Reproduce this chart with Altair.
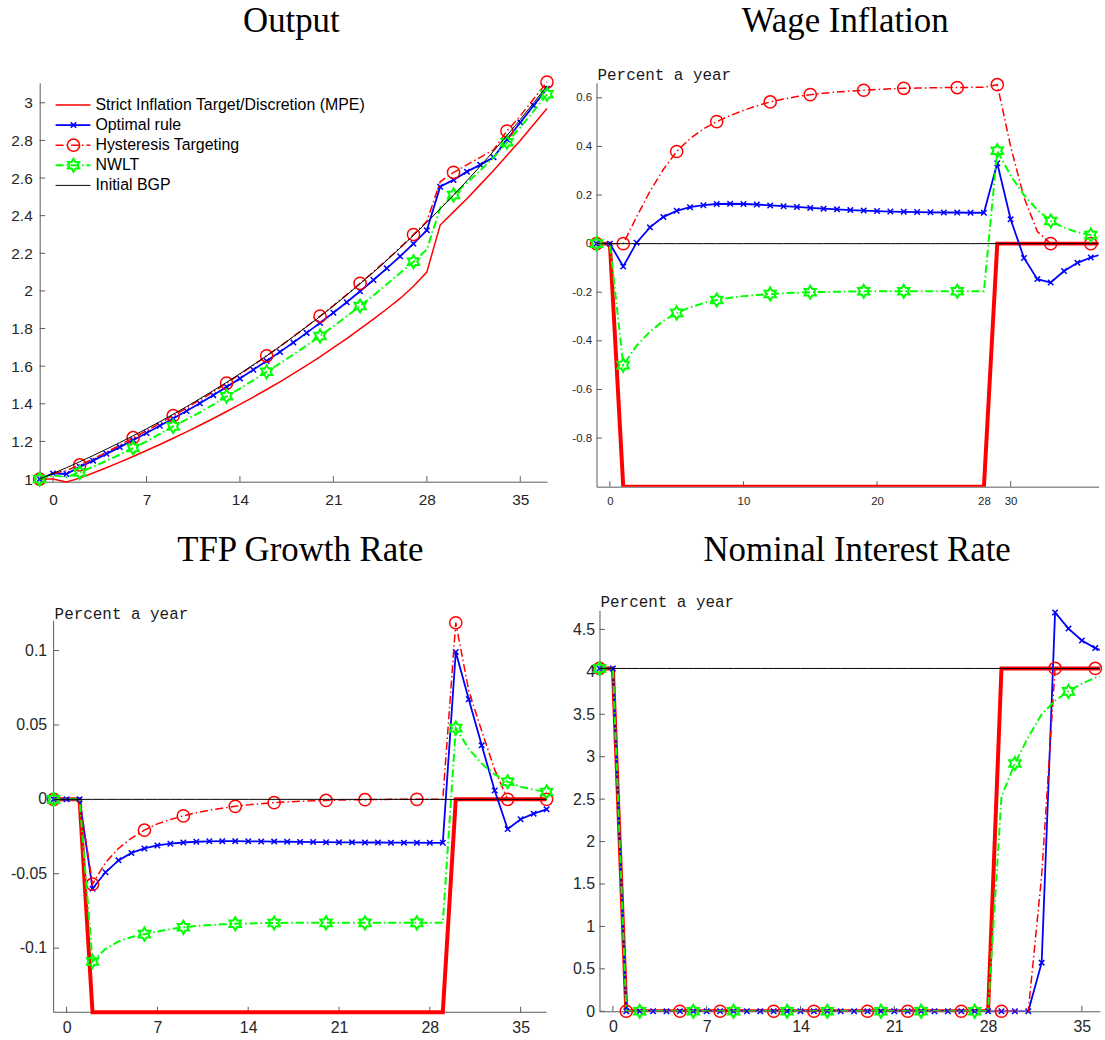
import altair as alt
import pandas as pd

# ---------------- data ----------------
T = list(range(-1, 38))
MARK_A = [-1, 2, 6, 9, 13, 16, 20, 23, 27, 30, 34, 37]
MARK_B = [-1, 1, 5, 8, 12, 15, 19, 22, 26, 29, 33, 36]

LEGEND_LABELS = ["Strict Inflation Target/Discretion (MPE)", "Optimal rule",
                 "Hysteresis Targeting", "NWLT", "Initial BGP"]
TITLES = ["Output", "Wage Inflation", "TFP Growth Rate", "Nominal Interest Rate"]
UNIT_LABEL = "Percent a year"

OUT_MPE = [1.000, 1.000, 0.985, 1.005, 1.032, 1.060, 1.090, 1.120, 1.152, 1.184,
           1.217, 1.251, 1.286, 1.322, 1.359, 1.397, 1.436, 1.476, 1.517, 1.560,
           1.604, 1.650, 1.698, 1.747, 1.798, 1.850, 1.904, 1.960, 2.025, 2.100,
           2.350, 2.420, 2.490, 2.565, 2.640, 2.720, 2.800, 2.885, 2.970]
OUT_OPT = [1.000, 1.030, 1.027, 1.065, 1.098, 1.134, 1.170, 1.207, 1.245, 1.283,
           1.322, 1.362, 1.403, 1.446, 1.490, 1.535, 1.581, 1.628, 1.676, 1.726,
           1.777, 1.830, 1.884, 1.940, 1.998, 2.058, 2.120, 2.184, 2.251, 2.322,
           2.554, 2.590, 2.634, 2.670, 2.710, 2.805, 2.895, 2.985, 3.075]
OUT_HYS = [1.000, 1.030, 1.045, 1.075, 1.108, 1.142, 1.180, 1.220, 1.257, 1.296,
           1.337, 1.378, 1.420, 1.464, 1.510, 1.557, 1.605, 1.655, 1.705, 1.757,
           1.811, 1.866, 1.922, 1.980, 2.040, 2.102, 2.165, 2.230, 2.300, 2.370,
           2.580, 2.630, 2.670, 2.710, 2.750, 2.850, 2.930, 3.020, 3.110]
OUT_NWLT = [1.000, 1.020, 1.010, 1.035, 1.065, 1.097, 1.130, 1.165, 1.200, 1.240,
            1.280, 1.317, 1.355, 1.396, 1.440, 1.481, 1.525, 1.570, 1.615, 1.662,
            1.710, 1.760, 1.812, 1.865, 1.920, 1.976, 2.035, 2.095, 2.155, 2.220,
            2.440, 2.510, 2.575, 2.640, 2.710, 2.790, 2.870, 2.955, 3.045]
OUT_BGP = [1.000, 1.030, 1.060, 1.092, 1.125, 1.159, 1.194, 1.230, 1.267, 1.305,
           1.344, 1.385, 1.427, 1.470, 1.514, 1.560, 1.607, 1.655, 1.705, 1.757,
           1.810, 1.864, 1.920, 1.978, 2.038, 2.099, 2.163, 2.228, 2.295, 2.364,
           2.436, 2.509, 2.585, 2.663, 2.743, 2.826, 2.911, 2.999, 3.090]

WAGE_MPE = [0.0, 0.0, -1.0, -1.0, -1.0, -1.0, -1.0, -1.0, -1.0, -1.0,
            -1.0, -1.0, -1.0, -1.0, -1.0, -1.0, -1.0, -1.0, -1.0, -1.0,
            -1.0, -1.0, -1.0, -1.0, -1.0, -1.0, -1.0, -1.0, -1.0, -1.0,
            0.0, 0.0, 0.0, 0.0, 0.0, 0.0, 0.0, 0.0, 0.0]
WAGE_OPT = [0.0, 0.0, -0.094, 0.004, 0.067, 0.110, 0.135, 0.150, 0.158, 0.163,
            0.164, 0.163, 0.161, 0.157, 0.154, 0.151, 0.147, 0.144, 0.141, 0.138,
            0.136, 0.134, 0.132, 0.131, 0.130, 0.129, 0.128, 0.128, 0.127, 0.127,
            0.331, 0.100, -0.059, -0.146, -0.160, -0.113, -0.079, -0.057, -0.041]
WAGE_HYS = [0.0, 0.0, 0.0, 0.110, 0.215, 0.305, 0.379, 0.432, 0.472, 0.502,
            0.527, 0.548, 0.567, 0.583, 0.595, 0.605, 0.613, 0.619, 0.624, 0.628,
            0.631, 0.634, 0.637, 0.639, 0.640, 0.641, 0.642, 0.642, 0.643, 0.643,
            0.654, 0.400, 0.190, 0.050, 0.0, 0.0, 0.0, 0.0, 0.0]
WAGE_NWLT = [0.0, 0.0, -0.500, -0.420, -0.362, -0.318, -0.285, -0.262, -0.245, -0.232,
             -0.223, -0.216, -0.211, -0.207, -0.204, -0.202, -0.200, -0.199, -0.198, -0.197,
             -0.196, -0.196, -0.196, -0.196, -0.196, -0.196, -0.196, -0.196, -0.196, -0.196,
             0.382, 0.280, 0.200, 0.138, 0.093, 0.066, 0.047, 0.035, 0.027]
WAGE_BGP = [0.0] * 39

TFP_MPE = [0.0, 0.0, 0.0, -0.1431, -0.1431, -0.1431, -0.1431, -0.1431, -0.1431, -0.1431,
           -0.1431, -0.1431, -0.1431, -0.1431, -0.1431, -0.1431, -0.1431, -0.1431, -0.1431, -0.1431,
           -0.1431, -0.1431, -0.1431, -0.1431, -0.1431, -0.1431, -0.1431, -0.1431, -0.1431, -0.1431,
           -0.1431, 0.0, 0.0, 0.0, 0.0, 0.0, 0.0, 0.0, 0.0]
TFP_OPT = [0.0, 0.0, 0.0, -0.060, -0.049, -0.041, -0.036, -0.033, -0.031, -0.0298,
           -0.0290, -0.0285, -0.0282, -0.0281, -0.0281, -0.0282, -0.0283, -0.0284, -0.0285, -0.0286,
           -0.0287, -0.0288, -0.0289, -0.0289, -0.0290, -0.0290, -0.0291, -0.0291, -0.0291, -0.0292,
           -0.0292, 0.0991, 0.0673, 0.0363, 0.0060, -0.0200, -0.0134, -0.0096, -0.0067]
TFP_HYS = [0.0, 0.0, 0.0, -0.057, -0.0425, -0.033, -0.026, -0.0207, -0.0165, -0.0135,
           -0.0111, -0.0090, -0.0073, -0.0059, -0.0047, -0.0037, -0.0029, -0.0022, -0.0017, -0.0013,
           -0.0010, -0.0007, -0.0005, -0.0003, -0.0002, -0.0001, 0.0, 0.0, 0.0, 0.0,
           0.0, 0.1187, 0.0730, 0.0460, 0.0200, 0.0, 0.0, 0.0, 0.0]
TFP_NWLT = [0.0, 0.0, 0.0, -0.109, -0.1005, -0.0955, -0.0925, -0.0906, -0.0888, -0.0872,
            -0.0860, -0.0851, -0.0845, -0.0840, -0.0836, -0.0834, -0.0832, -0.0831, -0.0830, -0.0830,
            -0.0830, -0.0830, -0.0830, -0.0830, -0.0830, -0.0830, -0.0830, -0.0830, -0.0830, -0.0830,
            -0.0830, 0.0479, 0.0340, 0.0240, 0.0168, 0.0118, 0.0085, 0.0064, 0.0050]
TFP_BGP = [0.0] * 39

NOM_MPE = [4.04, 4.04, 0.0, 0.0, 0.0, 0.0, 0.0, 0.0, 0.0, 0.0,
           0.0, 0.0, 0.0, 0.0, 0.0, 0.0, 0.0, 0.0, 0.0, 0.0,
           0.0, 0.0, 0.0, 0.0, 0.0, 0.0, 0.0, 0.0, 0.0, 0.0,
           4.04, 4.04, 4.04, 4.04, 4.04, 4.04, 4.04, 4.04, 4.04]
NOM_OPT = [4.04, 4.04, 0.0, 0.0, 0.0, 0.0, 0.0, 0.0, 0.0, 0.0,
           0.0, 0.0, 0.0, 0.0, 0.0, 0.0, 0.0, 0.0, 0.0, 0.0,
           0.0, 0.0, 0.0, 0.0, 0.0, 0.0, 0.0, 0.0, 0.0, 0.0,
           0.0, 0.0, 0.0, 0.573, 4.700, 4.510, 4.370, 4.280, 4.220]
NOM_HYS = [4.04, 4.04, 0.0, 0.0, 0.0, 0.0, 0.0, 0.0, 0.0, 0.0,
           0.0, 0.0, 0.0, 0.0, 0.0, 0.0, 0.0, 0.0, 0.0, 0.0,
           0.0, 0.0, 0.0, 0.0, 0.0, 0.0, 0.0, 0.0, 0.0, 0.0,
           0.0, 0.0, 0.0, 1.600, 4.04, 4.04, 4.04, 4.04, 4.04]
NOM_NWLT = [4.04, 4.04, 0.0, 0.0, 0.0, 0.0, 0.0, 0.0, 0.0, 0.0,
            0.0, 0.0, 0.0, 0.0, 0.0, 0.0, 0.0, 0.0, 0.0, 0.0,
            0.0, 0.0, 0.0, 0.0, 0.0, 0.0, 0.0, 0.0, 0.0, 0.0,
            2.530, 2.920, 3.230, 3.500, 3.660, 3.770, 3.860, 3.930, 3.970]
NOM_BGP = [4.04] * 39

X_TICKS = [0, 7, 14, 21, 28, 35]
X_TICKS_WAGE = [0, 10, 20, 28, 30]
Y_TICKS_OUT = [1, 1.2, 1.4, 1.6, 1.8, 2, 2.2, 2.4, 2.6, 2.8, 3]
Y_TICKS_WAGE = [-0.8, -0.6, -0.4, -0.2, 0, 0.2, 0.4, 0.6]
Y_TICKS_TFP = [-0.1, -0.05, 0, 0.05, 0.1]
Y_TICKS_NOM = [0, 0.5, 1, 1.5, 2, 2.5, 3, 3.5, 4, 4.5]

# ---------------- style ----------------
AX_COLOR = "#5a5a5a"
LBL_COLOR = "#262626"
RED, BLUE, GREEN, BLACK = "#FF0000", "#0000FF", "#00FF00", "#000000"
DASHDOT = [8, 3, 1.5, 3]
X_SHAPE = "M-1,-1L1,1M-1,1L1,-1"
HEX_SHAPE = ("M0,-1L0.289,-0.5L0.866,-0.5L0.577,0L0.866,0.5L0.289,0.5L0,1"
             "L-0.289,0.5L-0.866,0.5L-0.577,0L-0.866,-0.5L-0.289,-0.5Z")
SZ_X, SZ_O, SZ_H = 30, 150, 175
TICK_LEN = 5.5
TITLE_FS = 35


def make_panel(vals, cfg):
    W, H = cfg["w"], cfg["h"]
    xmax = cfg["xdom"][1]
    manual = cfg.get("manual", False)
    xax = alt.Axis(values=cfg["xticks"], labelExpr="'' + datum.value",
                   labelFontSize=cfg["fs"], labelPadding=cfg["xpad"], ticks=False,
                   tickSize=0, grid=False, title=None, domainColor=AX_COLOR,
                   domainWidth=1, labelColor=LBL_COLOR, labelFlush=False,
                   labelOverlap=False, labelFont="Liberation Sans", domain=not manual)
    yax = alt.Axis(values=cfg["yticks"], labelExpr="'' + datum.value",
                   labelFontSize=cfg["fs"], labelPadding=cfg["ypad"], ticks=False,
                   tickSize=0, grid=False, title=None, domainColor=AX_COLOR,
                   domainWidth=1, labelColor=LBL_COLOR, labelFlush=False,
                   labelOverlap=False, labelFont="Liberation Sans",
                   labels=not manual, domain=not manual)
    X = alt.X("t:Q", scale=alt.Scale(domain=cfg["xdom"], nice=False, zero=False), axis=xax)
    Y = alt.Y("v:Q", scale=alt.Scale(domain=cfg["ydom"], nice=False, zero=False), axis=yax)
    clip = cfg["clip"]

    def line(v, color, width, dash=None):
        kw = dict(color=color, strokeWidth=width, clip=clip)
        if dash:
            kw["strokeDash"] = dash
        return alt.Chart(pd.DataFrame({"t": T, "v": v})).mark_line(**kw).encode(x=X, y=Y)

    def points(v, idx, shape, color, size, sw):
        df = pd.DataFrame({"t": T, "v": v})
        df = df[df["t"].isin(idx) & (df["t"] <= xmax)]
        return alt.Chart(df).mark_point(shape=shape, filled=False, color=color, size=size,
                                         strokeWidth=sw, opacity=1).encode(x=X, y=Y)

    layers = []
    # inward x ticks
    layers.append(alt.Chart(pd.DataFrame({"t": cfg["xticks"]})).mark_rule(
        color=AX_COLOR, strokeWidth=1).encode(x=X, y=alt.value(H), y2=alt.value(H - TICK_LEN)))
    if manual:
        x0 = cfg["x0"]
        pxu = W / (cfg["xdom"][1] - cfg["xdom"][0])
        # axis lines drawn at x = x0 (left edge of the data range)
        layers.append(alt.Chart(pd.DataFrame({"t": [x0], "t2": [xmax]})).mark_rule(
            color=AX_COLOR, strokeWidth=1).encode(x=X, x2="t2:Q", y=alt.value(H)))
        layers.append(alt.Chart(pd.DataFrame({"t": [x0], "v": [cfg["ydom"][0]],
                                              "v2": [cfg["ytop"]]})).mark_rule(
            color=AX_COLOR, strokeWidth=1).encode(x=X, y=Y, y2="v2:Q"))
        ydf = pd.DataFrame({"v": cfg["yticks"]})
        ydf["t"] = x0
        ydf["t2"] = x0 + TICK_LEN / pxu
        ydf["lab"] = ["%g" % v for v in cfg["yticks"]]
        layers.append(alt.Chart(ydf).mark_rule(color=AX_COLOR, strokeWidth=1).encode(
            y=Y, x=X, x2="t2:Q"))
        layers.append(alt.Chart(ydf).mark_text(
            align="right", baseline="middle", dx=-cfg["ypad"], font="Liberation Sans",
            fontSize=cfg["fs"], color=LBL_COLOR).encode(y=Y, x=X, text="lab:N"))
        x_origin = (x0 - cfg["xdom"][0]) * pxu
    else:
        layers.append(alt.Chart(pd.DataFrame({"v": cfg["yticks"]})).mark_rule(
            color=AX_COLOR, strokeWidth=1).encode(y=Y, x=alt.value(0), x2=alt.value(TICK_LEN)))
        x_origin = 0

    mpe, opt, hys, nwlt, bgp = vals
    layers.append(line(mpe, RED, cfg["mpe_w"]))
    layers.append(line(opt, BLUE, 1.8))
    layers.append(points(opt, T, X_SHAPE, BLUE, SZ_X, 1.5))
    layers.append(line(hys, RED, 1.5, DASHDOT))
    layers.append(points(hys, cfg["red_marks"], "circle", RED, SZ_O, 1.5))
    layers.append(line(nwlt, GREEN, 2, DASHDOT))
    layers.append(points(nwlt, cfg["green_marks"], HEX_SHAPE, GREEN, SZ_H, 2))
    layers.append(line(bgp, BLACK, 1))

    # title
    layers.append(alt.Chart(pd.DataFrame({"s": [cfg["title"]]})).mark_text(
        font="Liberation Serif", fontSize=TITLE_FS, align="center", baseline="alphabetic",
        color="black").encode(text="s:N", x=alt.value(x_origin + cfg["title_x"]),
                              y=alt.value(cfg["title_y"])))
    if cfg.get("unit_y") is not None:
        layers.append(alt.Chart(pd.DataFrame({"s": [UNIT_LABEL]})).mark_text(
            font="Liberation Mono", fontSize=16, align="left", baseline="alphabetic",
            color="#1a1a1a").encode(text="s:N", x=alt.value(x_origin + 1),
                                    y=alt.value(cfg["unit_y"])))

    if cfg.get("legend"):
        LX0, LX1, LXM, LXT, LY0, LDY = 16, 51, 34, 56, 22.3, 20.2
        styles = [
            dict(color=RED, w=1.5, dash=None, shape=None),
            dict(color=BLUE, w=1.8, dash=None, shape=(X_SHAPE, SZ_X, 1.5)),
            dict(color=RED, w=1.5, dash=DASHDOT, shape=("circle", SZ_O, 1.5)),
            dict(color=GREEN, w=2, dash=DASHDOT, shape=(HEX_SHAPE, SZ_H, 2)),
            dict(color=BLACK, w=1, dash=None, shape=None),
        ]
        for i, lab in enumerate(LEGEND_LABELS):
            st = styles[i]
            yy = LY0 + i * LDY
            base = alt.Chart(pd.DataFrame({"label": [lab]}))
            kw = dict(color=st["color"], strokeWidth=st["w"])
            if st["dash"]:
                kw["strokeDash"] = st["dash"]
            layers.append(base.mark_rule(**kw).encode(
                x=alt.value(LX0), x2=alt.value(LX1), y=alt.value(yy)))
            if st["shape"]:
                shp, sz, sw = st["shape"]
                layers.append(base.mark_point(shape=shp, filled=False, color=st["color"],
                                              size=sz, strokeWidth=sw, opacity=1).encode(
                    x=alt.value(LXM), y=alt.value(yy)))
            layers.append(base.mark_text(align="left", baseline="middle",
                                         font="Liberation Sans", fontSize=16,
                                         color="black").encode(
                text="label:N", x=alt.value(LXT), y=alt.value(yy)))

    return alt.layer(*layers).properties(width=W, height=H)


out = make_panel((OUT_MPE, OUT_OPT, OUT_HYS, OUT_NWLT, OUT_BGP), dict(
    w=510, h=401, xdom=[-1, 37], ydom=[0.986, 3.106], xticks=X_TICKS, yticks=Y_TICKS_OUT,
    fs=15.5, xpad=10.5, ypad=7.5, clip=False, mpe_w=1.5, red_marks=MARK_A,
    green_marks=MARK_A, title=TITLES[0], title_x=253, title_y=-51, unit_y=None, legend=True))

wage = make_panel((WAGE_MPE, WAGE_OPT, WAGE_HYS, WAGE_NWLT, WAGE_BGP), dict(
    w=504.7, h=406, xdom=[-1, 36.58], ydom=[-1.0, 0.6616], xticks=X_TICKS_WAGE,
    yticks=Y_TICKS_WAGE, fs=11.5, xpad=9, ypad=5, clip=True, mpe_w=4,
    red_marks=MARK_B, green_marks=MARK_B, title=TITLES[1], title_x=250, title_y=-51,
    unit_y=-3))

tfp = make_panel((TFP_MPE, TFP_OPT, TFP_HYS, TFP_NWLT, TFP_BGP), dict(
    w=509.6, h=404, xdom=[-2.074, 37], ydom=[-0.1431, 0.127], xticks=X_TICKS,
    yticks=Y_TICKS_TFP, fs=16, xpad=7.5, ypad=6.5, clip=False, mpe_w=4,
    red_marks=MARK_A, green_marks=MARK_A, title=TITLES[2], title_x=248, title_y=-50,
    unit_y=9, manual=True, x0=-1, ytop=0.12))

nom = make_panel((NOM_MPE, NOM_OPT, NOM_HYS, NOM_NWLT, NOM_BGP), dict(
    w=503, h=403, xdom=[-1, 36.34], ydom=[0, 4.724], xticks=X_TICKS, yticks=Y_TICKS_NOM,
    fs=16, xpad=7.5, ypad=5, clip=True, mpe_w=4, red_marks=MARK_B, green_marks=MARK_A,
    title=TITLES[3], title_x=259, title_y=-50, unit_y=-3))

chart = alt.concat(out, wage, tfp, nom, columns=2, align="none",
                   spacing=alt.RowColnumber(row=25.4, column=14.8)).properties(
    padding={"left": 9.9, "top": 1.5, "right": 0, "bottom": 0},
    background="white",
).configure_view(stroke=None)

chart.save("out.html", embed_options={"renderer": "svg", "actions": False})
